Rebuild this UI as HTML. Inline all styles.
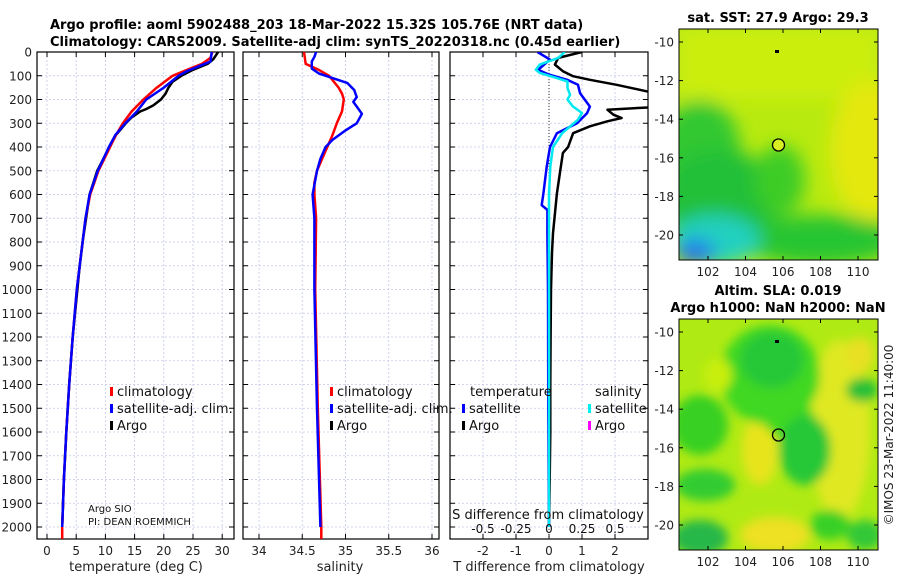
<!DOCTYPE html>
<html><head><meta charset="utf-8">
<style>
html,body{margin:0;padding:0;background:#fff;}
svg{display:block;font-family:"DejaVu Sans","Liberation Sans",sans-serif;}
</style></head>
<body>
<svg id="fig" width="900" height="580" viewBox="0 0 900 580" xmlns="http://www.w3.org/2000/svg">
<defs>
<clipPath id="c1"><rect x="37" y="52" width="197" height="487"/></clipPath>
<clipPath id="c2"><rect x="243" y="52" width="196" height="487"/></clipPath>
<clipPath id="c3"><rect x="450" y="52" width="198" height="487"/></clipPath>
<clipPath id="cm1"><rect x="679" y="29" width="199" height="231"/></clipPath>
<clipPath id="cm2"><rect x="679" y="319" width="199" height="231"/></clipPath>
<filter id="bl" x="-50%" y="-50%" width="200%" height="200%"><feGaussianBlur stdDeviation="9"/></filter>
<filter id="bl2" x="-50%" y="-50%" width="200%" height="200%"><feGaussianBlur stdDeviation="5"/></filter>
</defs>
<text x="50" y="29" font-size="13" font-weight="bold">Argo profile: aoml 5902488_203 18-Mar-2022 15.32S 105.76E (NRT data)</text>
<text x="50" y="46" font-size="13" font-weight="bold">Climatology: CARS2009. Satellite-adj clim: synTS_20220318.nc (0.45d earlier)</text>
<g id="p1"></g>
<g id="p2"></g>
<g id="p3"></g>

<!-- SST map -->
<g>
<text x="778" y="22" font-size="13" font-weight="bold" text-anchor="middle">sat. SST: 27.9 Argo: 29.3</text>
<g clip-path="url(#cm1)">
<rect x="679" y="29" width="199" height="231" fill="#b8ea10"/>
<g filter="url(#bl)">
<rect x="679" y="29" width="199" height="70" fill="#ccee0c"/>
<ellipse cx="870" cy="150" rx="40" ry="70" fill="#e4e810"/>
<ellipse cx="700" cy="150" rx="40" ry="50" fill="#30c830"/>
<ellipse cx="720" cy="200" rx="60" ry="50" fill="#20c038"/>
<ellipse cx="780" cy="180" rx="25" ry="35" fill="#3ccc28"/>
<ellipse cx="820" cy="240" rx="80" ry="25" fill="#28c530"/>
<ellipse cx="715" cy="240" rx="45" ry="25" fill="#20d0c0"/>
<ellipse cx="695" cy="252" rx="20" ry="12" fill="#2070f0"/>
</g>
</g>
<rect x="679" y="29" width="199" height="231" fill="none" stroke="#000"/>
<rect x="775" y="50" width="4" height="3" fill="#000"/>
<circle cx="778.5" cy="145" r="6" fill="#d8ee20" stroke="#000" stroke-width="1.3"/>
<g id="m1ax"></g>
</g>

<!-- SLA map -->
<g>
<text x="778" y="295" font-size="13" font-weight="bold" text-anchor="middle">Altim. SLA: 0.019</text>
<text x="778" y="312" font-size="13" font-weight="bold" text-anchor="middle">Argo h1000: NaN h2000: NaN</text>
<g clip-path="url(#cm2)">
<rect x="679" y="319" width="199" height="231" fill="#b0ea14"/>
<g filter="url(#bl2)">
<ellipse cx="840" cy="430" rx="30" ry="90" fill="#e0e820"/>
<ellipse cx="760" cy="450" rx="18" ry="35" fill="#e8e41e"/>
<ellipse cx="775" cy="535" rx="35" ry="18" fill="#eee020"/>
<ellipse cx="770" cy="375" rx="50" ry="50" fill="#40d820"/>
<ellipse cx="772" cy="360" rx="32" ry="28" fill="#28c838"/>
<ellipse cx="700" cy="425" rx="28" ry="30" fill="#38d024"/>
<ellipse cx="790" cy="420" rx="25" ry="20" fill="#40d820"/>
<ellipse cx="805" cy="450" rx="26" ry="35" fill="#28c838"/>
<ellipse cx="705" cy="485" rx="30" ry="16" fill="#30cc30"/>
<ellipse cx="700" cy="538" rx="28" ry="18" fill="#28b848"/>
<ellipse cx="830" cy="525" rx="20" ry="15" fill="#38d028"/>
<ellipse cx="865" cy="535" rx="18" ry="15" fill="#30c838"/>
<ellipse cx="862" cy="390" rx="16" ry="12" fill="#28c038"/>
<ellipse cx="718" cy="375" rx="14" ry="17" fill="#c8ee10"/>
<ellipse cx="860" cy="355" rx="14" ry="18" fill="#e8e020"/>
</g>
</g>
<rect x="679" y="319" width="199" height="231" fill="none" stroke="#000"/>
<rect x="775" y="340" width="4" height="3" fill="#000"/>
<circle cx="778.5" cy="435" r="6" fill="none" stroke="#000" stroke-width="1.3"/>
<g id="m2ax"></g>
</g>
<text transform="translate(893,435) rotate(-90)" font-size="12" text-anchor="middle" fill="#222">©IMOS 23-Mar-2022 11:40:00</text>
</svg>
<script>
// ---------- data ----------
const depthTicks = [0,100,200,300,400,500,600,700,800,900,1000,1100,1200,1300,1400,1500,1600,1700,1800,1900,2000];
const tTicks = [0,5,10,15,20,25,30];
const sTicks = [34,34.5,35,35.5,36];
const dTTicks = [-2,-1,0,1,2];
const dSTicks = [-0.5,-0.25,0,0.25,0.5];
const dSTickLabels = ["-0.5","-0.25","0","0.25","0.5"];

const tClimDepth = [0,25,50,75,100,150,200,250,300,350,400,500,600,700,800,900,1000,1200,1400,1600,1800,2000,2050];
const tClim = [28.3,28,26.5,24,21.5,18.8,16.5,14.5,13,11.8,10.8,8.8,7.4,6.6,6.1,5.6,5.1,4.4,3.8,3.3,2.9,2.6,2.6];
const tSatDepth = [0,40,60,80,100,150,200,250,300,350,400,500,600,700,800,900,1000,1200,1400,1600,1800,2000];
const tSat = [28.2,28,26,24,22.5,20,17,15.4,13.4,11.7,10.6,8.7,7.3,6.6,6.1,5.6,5.1,4.4,3.8,3.3,2.9,2.6];
const tArgoDepth = [0,30,50,75,100,125,150,175,200,225,240,250,275,300,350,400,500,600,700,800,900,1000,1200,1400,1600,1800,2000];
const tArgo = [29.3,28.5,27.5,25,23,21.5,20.8,20.3,19.5,18.2,17,16,14.5,13.5,11.8,10.7,8.6,7.3,6.7,6.1,5.6,5.2,4.4,3.8,3.3,2.9,2.6];

const sClimDepth = [0,50,75,100,150,175,200,250,300,350,400,450,500,550,600,700,1000,1500,2000,2050];
const sClim = [34.52,34.54,34.69,34.81,34.92,34.96,34.98,34.96,34.90,34.85,34.79,34.73,34.67,34.64,34.64,34.66,34.65,34.68,34.72,34.72];
const sSatDepth = [0,20,40,70,90,110,130,160,190,210,225,260,300,330,370,400,450,500,600,700,1000,1500,2000];
const sSat = [34.66,34.64,34.61,34.61,34.69,34.85,35.02,35.10,35.13,35.09,35.12,35.19,35.13,35.00,34.85,34.77,34.71,34.67,34.62,34.64,34.64,34.67,34.71];

const dTSatDepth = [0,32,75,95,117,138,173,230,258,300,342,400,483,596,645,665,763,1000,1500,2000];
const dTSat = [-0.35,0.03,-0.33,0.0,0.55,0.88,0.94,1.24,1.15,0.85,0.24,0.03,-0.07,-0.17,-0.22,-0.05,-0.05,-0.03,-0.02,0];
const dSSatDepth = [0,25,53,75,88,110,124,152,180,200,229,257,285,342,400,483,600,1000,1500,2000];
const dSSat = [0.12,0.07,-0.07,-0.10,-0.07,0.06,0.14,0.14,0.16,0.14,0.18,0.25,0.22,0.10,0.03,0.01,0,0,0,0];
const dTArgoDepth = [0,25,53,81,102,117,138,159,173,200,232,243,264,278,292,313,342,400,425,510,596,763,845,1000,1200,1400,1600,1800,2000];
const dTArgo = [1.0,0.28,0.18,0.42,0.73,1.24,2.05,2.75,3.2,3.4,3.2,1.77,1.95,2.2,1.77,1.24,0.73,0.58,0.42,0.33,0.24,0.12,0.09,0.06,0.05,0.04,0.04,0.02,0];

// ---------- helpers ----------
const NS = "http://www.w3.org/2000/svg";
function el(tag, attrs, parent, txt){
  const e = document.createElementNS(NS, tag);
  for (const k in attrs) e.setAttribute(k, attrs[k]);
  if (txt !== undefined) e.textContent = txt;
  parent.appendChild(e);
  return e;
}
const Y0 = 52, Y1 = 539;
function yD(d){ return Y0 + d * 0.2375; }
function line(parent, xs, ds, xf, color, w, name, clip){
  const pts = xs.map((v,i)=> xf(v).toFixed(1)+","+yD(ds[i]).toFixed(1)).join(" ");
  const p = el("polyline", {points: pts, fill:"none", stroke: color, "stroke-width": w, "stroke-linejoin":"round", "clip-path": clip}, parent);
  
  
  return p;
}
function frame(g, x0, x1, xticks, xf, labels, showY){
  for (const d of depthTicks){
    const y = yD(d);
    const gl = el("line", {x1:x0, x2:x1, y1:y, y2:y, stroke:"#c4c8e6", "stroke-width":0.8, "stroke-dasharray":"2,2"}, g);
    
    
    el("line", {x1:x0, x2:x0+5, y1:y, y2:y, stroke:"#000"}, g);
    el("line", {x1:x1-5, x2:x1, y1:y, y2:y, stroke:"#000"}, g);
    if (showY){
      const t = el("text", {x:x0-5, y:y+4.5, "font-size":12, "text-anchor":"end", fill:"#222"}, g, String(d));
      
      
    }
  }
  xticks.forEach((v,i)=>{
    const x = xf(v);
    const gl = el("line", {x1:x, x2:x, y1:Y0, y2:Y1, stroke:"#c4c8e6", "stroke-width":0.8, "stroke-dasharray":"2,2"}, g);
    
    
    el("line", {x1:x, x2:x, y1:Y1, y2:Y1-5, stroke:"#000"}, g);
    el("line", {x1:x, x2:x, y1:Y0, y2:Y0+5, stroke:"#000"}, g);
    const t = el("text", {x:x, y:555, "font-size":12, "text-anchor":"middle", fill:"#222"}, g, labels[i]);
    
    
  });
  const r = el("rect", {x:x0, y:Y0, width:x1-x0, height:Y1-Y0, fill:"none", stroke:"#000", "stroke-width":1.2}, g);
  
  
}
function legendItem(g, x, y, color, label){
  el("rect", {x:x, y:y-9, width:3, height:9, fill:color}, g);
  const t = el("text", {x:x+7, y:y, "font-size":13, fill:"#111"}, g, label);
  
  
}

// ---------- panel 1 ----------
const g1 = document.getElementById("p1");
const xT = v => 47 + v * 5.84;
frame(g1, 37, 234, tTicks, xT, tTicks.map(String), true);
line(g1, tArgo, tArgoDepth, xT, "#000", 2.5, "argo-temperature-line", "url(#c1)");
line(g1, tClim, tClimDepth, xT, "#f00", 2.5, "climatology-temperature-line", "url(#c1)");
line(g1, tSat, tSatDepth, xT, "#00f", 2.5, "satellite-temperature-line", "url(#c1)");
legendItem(g1, 110, 396, "#f00", "climatology");
legendItem(g1, 110, 413, "#00f", "satellite-adj. clim.");
legendItem(g1, 110, 430, "#000", "Argo");
el("text", {x:88, y:512, "font-size":10, fill:"#111"}, g1, "Argo SIO");
el("text", {x:88, y:525, "font-size":10, fill:"#111"}, g1, "PI: DEAN ROEMMICH");
const xl1 = el("text", {x:136, y:571, "font-size":13, "text-anchor":"middle", fill:"#222"}, g1, "temperature (deg C)");



// ---------- panel 2 ----------
const g2 = document.getElementById("p2");
const xS = v => 259 + (v - 34) * 86.5;
frame(g2, 243, 439, sTicks, xS, sTicks.map(String), false);
line(g2, sClim, sClimDepth, xS, "#f00", 2.5, "climatology-salinity-line", "url(#c2)");
line(g2, sSat, sSatDepth, xS, "#00f", 2.5, "satellite-salinity-line", "url(#c2)");
legendItem(g2, 330, 396, "#f00", "climatology");
legendItem(g2, 330, 413, "#00f", "satellite-adj. clim.");
legendItem(g2, 330, 430, "#000", "Argo");
const xl2 = el("text", {x:340, y:571, "font-size":13, "text-anchor":"middle", fill:"#222"}, g2, "salinity");



// ---------- panel 3 ----------
const g3 = document.getElementById("p3");
const xdT = v => 549 + v * 33;
const xdS = v => 549 + v * 132;
frame(g3, 450, 648, dTTicks, xdT, dTTicks.map(String), false);
const zl = el("line", {x1:549, x2:549, y1:Y0, y2:Y1, stroke:"#333", "stroke-width":1, "stroke-dasharray":"1,2"}, g3);


line(g3, dTArgo, dTArgoDepth, xdT, "#000", 2.5, "argo-temperature-difference-line", "url(#c3)");
line(g3, dTSat, dTSatDepth, xdT, "#00f", 2.5, "satellite-temperature-difference-line", "url(#c3)");
line(g3, dSSat, dSSatDepth, xdS, "#00e8f0", 2.5, "satellite-salinity-difference-line", "url(#c3)");
el("text", {x:470, y:396, "font-size":13, fill:"#111"}, g3, "temperature");
el("text", {x:595, y:396, "font-size":13, fill:"#111"}, g3, "salinity");
legendItem(g3, 462, 413, "#00f", "satellite");
legendItem(g3, 462, 430, "#000", "Argo");
legendItem(g3, 588, 413, "#00f0f0", "satellite");
legendItem(g3, 588, 430, "#f0f", "Argo");
el("text", {x:548, y:519, "font-size":13, "text-anchor":"middle", fill:"#111"}, g3, "S difference from climatology");
dSTicks.forEach((v,i)=>{
  const t = el("text", {x:xdS(v), y:533, "font-size":12, "text-anchor":"middle", fill:"#111"}, g3, dSTickLabels[i]);
  
  
});
const xl3 = el("text", {x:549, y:571, "font-size":13, "text-anchor":"middle", fill:"#222"}, g3, "T difference from climatology");



// ---------- map axes ----------
const lonTicks = [102,104,106,108,110];
const latTicks = [-10,-12,-14,-16,-18,-20];
function mapAxes(id, top, bottom, lat10y){
  const g = document.getElementById(id);
  lonTicks.forEach(v=>{
    const x = 708 + (v-102)*18.75;
    el("line", {x1:x, x2:x, y1:bottom, y2:bottom-4, stroke:"#000"}, g);
    el("line", {x1:x, x2:x, y1:top, y2:top+4, stroke:"#000"}, g);
    const t = el("text", {x:x, y:bottom+16, "font-size":12, "text-anchor":"middle", fill:"#222"}, g, String(v));
    
    
  });
  latTicks.forEach(v=>{
    const y = lat10y + (-10 - v)*19.3;
    el("line", {x1:679, x2:683, y1:y, y2:y, stroke:"#000"}, g);
    el("line", {x1:874, x2:878, y1:y, y2:y, stroke:"#000"}, g);
    const t = el("text", {x:674, y:y+4.5, "font-size":12, "text-anchor":"end", fill:"#222"}, g, String(v));
    
    
  });
}
mapAxes("m1ax", 29, 260, 42);
mapAxes("m2ax", 319, 550, 332);
</script>
</body></html>
